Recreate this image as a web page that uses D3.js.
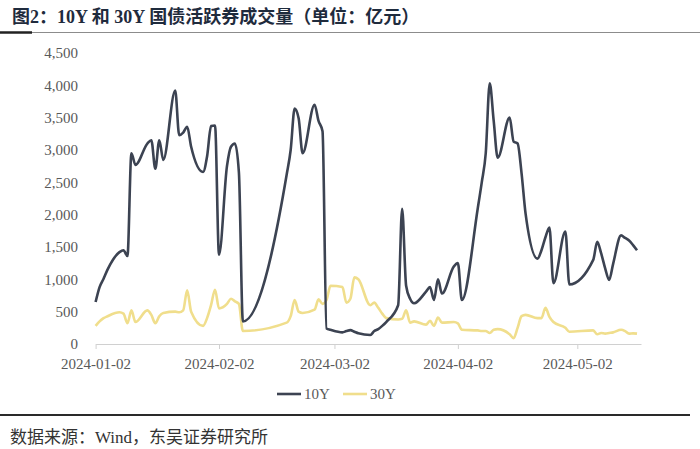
<!DOCTYPE html>
<html><head><meta charset="utf-8">
<script src="https://cdn.jsdelivr.net/npm/d3@7"></script>
<style>
html,body{margin:0;padding:0;background:#fff;}
svg{display:block;}
</style></head>
<body><svg id="c" width="700" height="449"></svg>
<script>
const title = "图2：10Y 和 30Y 国债活跃券成交量（单位：亿元）";
const source = "数据来源：Wind，东吴证券研究所";
const seriesNames = ["10Y", "30Y"];
const xTickLabels = ["2024-01-02","2024-02-02","2024-03-02","2024-04-02","2024-05-02"];
const yTicks = [0,500,1000,1500,2000,2500,3000,3500,4000,4500];

const dates = ["2024-01-02","2024-01-03","2024-01-04","2024-01-05","2024-01-08","2024-01-09","2024-01-10","2024-01-11","2024-01-12",
"2024-01-15","2024-01-16","2024-01-17","2024-01-18","2024-01-19","2024-01-22","2024-01-23","2024-01-24","2024-01-25","2024-01-26",
"2024-01-29","2024-01-30","2024-01-31","2024-02-01","2024-02-02","2024-02-04","2024-02-05","2024-02-06","2024-02-07","2024-02-08",
"2024-02-19","2024-02-20","2024-02-21","2024-02-22","2024-02-23","2024-02-26","2024-02-27","2024-02-28","2024-02-29","2024-03-01",
"2024-03-04","2024-03-05","2024-03-06","2024-03-07","2024-03-08","2024-03-11","2024-03-12","2024-03-13","2024-03-14","2024-03-15",
"2024-03-18","2024-03-19","2024-03-20","2024-03-21","2024-03-22","2024-03-25","2024-03-26","2024-03-27","2024-03-28","2024-03-29",
"2024-04-01","2024-04-02","2024-04-03","2024-04-07","2024-04-08","2024-04-09","2024-04-10","2024-04-11","2024-04-12",
"2024-04-15","2024-04-16","2024-04-17","2024-04-18","2024-04-19","2024-04-22","2024-04-23","2024-04-24","2024-04-25","2024-04-26",
"2024-04-29","2024-04-30","2024-05-06","2024-05-07","2024-05-08","2024-05-09","2024-05-10","2024-05-11",
"2024-05-13","2024-05-14","2024-05-15","2024-05-16","2024-05-17"];

const vol10Y = [650,880,1010,1150,1420,1450,1360,2950,2770,
3100,3150,2710,3150,2845,3920,3230,3270,3360,3050,
2660,2900,3370,3380,1380,2750,3050,3100,2650,350,
2620,3000,3640,3490,2950,3700,3450,3290,240,220,
180,200,215,190,165,140,200,230,280,340,
600,2090,900,700,630,810,880,680,1000,780,
1200,1250,680,2100,2500,2950,4030,3450,2880,
3500,3130,3100,2640,2020,1320,1450,1650,1800,940,
1740,920,1300,1580,1400,1170,990,1240,
1680,1640,1600,1530,1450];

const vol30Y = [280,350,400,430,490,470,320,520,340,
520,450,320,430,480,500,490,520,830,500,
280,400,600,840,550,620,700,660,620,200,
330,430,680,500,480,530,690,620,680,900,
880,640,700,1030,1000,600,640,560,470,400,
380,390,520,330,350,300,360,280,410,330,
340,320,220,210,200,200,170,220,230,
150,90,250,430,450,400,400,560,420,340,
250,190,210,150,170,160,170,180,
220,200,160,165,160];

const parse = d3.timeParse("%Y-%m-%d");
const fmt = d3.timeFormat("%Y-%m-%d");
const svg = d3.select("#c");
const serif = "'Liberation Serif','Times New Roman','Noto Sans CJK SC',serif";

// title
svg.append("text").attr("x",12).attr("y",23)
  .attr("font-family",serif).attr("font-weight","bold").attr("font-size",18)
  .attr("fill","#1f2b3d").text(title);
svg.append("line").attr("x1",0).attr("x2",700).attr("y1",32.5).attr("y2",32.5)
  .attr("stroke","#8c8c8c").attr("stroke-width",1);
svg.append("line").attr("x1",0).attr("x2",32).attr("y1",32.5).attr("y2",32.5)
  .attr("stroke","#222").attr("stroke-width",2.5);

const x = d3.scaleTime().domain([parse("2024-01-02"), parse("2024-05-18")]).range([95.6, 641]);
const y = d3.scaleLinear().domain([0,4500]).range([344, 53]);

// x axis
const xAxis = d3.axisBottom(x).tickValues(xTickLabels.map(parse)).tickFormat(fmt).tickSize(5).tickSizeOuter(0);
const gx = svg.append("g").attr("transform","translate(0,344)").call(xAxis);
gx.select(".domain").attr("stroke","#d0d0d0").attr("stroke-width",1);
gx.selectAll(".tick line").attr("stroke","#d0d0d0");
gx.selectAll(".tick text").attr("font-family",serif).attr("font-size",15).attr("fill","#595959").attr("dy","0.95em").attr("y",11);

// y axis
const yAxis = d3.axisLeft(y).tickValues(yTicks).tickFormat(d3.format(",")).tickSize(0);
const gy = svg.append("g").attr("transform","translate(78,0)").call(yAxis);
gy.select(".domain").remove();
gy.selectAll(".tick text").attr("font-family",serif).attr("font-size",15).attr("fill","#595959").attr("x",0);

const data = dates.map((d,i)=>({date:parse(d), a:vol10Y[i], b:vol30Y[i]}));
const lineA = d3.line().x(d=>x(d.date)).y(d=>y(d.a)).curve(d3.curveMonotoneX);
const lineB = d3.line().x(d=>x(d.date)).y(d=>y(d.b)).curve(d3.curveMonotoneX);

svg.append("path").datum(data).attr("d",lineB).attr("fill","none")
  .attr("stroke","#f0de8c").attr("stroke-width",2.6).attr("stroke-linejoin","round");
svg.append("path").datum(data).attr("d",lineA).attr("fill","none")
  .attr("stroke","#3c4352").attr("stroke-width",2.6).attr("stroke-linejoin","round");

// legend
const legend = [{name:seriesNames[0], color:"#3c4352", x:277},{name:seriesNames[1], color:"#f0de8c", x:343}];
const lg = svg.append("g");
legend.forEach(l=>{
  lg.append("line").attr("x1",l.x).attr("x2",l.x+24).attr("y1",394).attr("y2",394)
    .attr("stroke",l.color).attr("stroke-width",2.6);
  lg.append("text").attr("x",l.x+27).attr("y",399).attr("font-family",serif)
    .attr("font-size",15).attr("fill","#595959").text(l.name);
});

// bottom separator & source
svg.append("line").attr("x1",0).attr("x2",690).attr("y1",415).attr("y2",415)
  .attr("stroke","#2a2a2a").attr("stroke-width",2);
svg.append("text").attr("x",10).attr("y",443).attr("font-family",serif)
  .attr("font-size",17).attr("fill","#333").text(source);
</script></body></html>
